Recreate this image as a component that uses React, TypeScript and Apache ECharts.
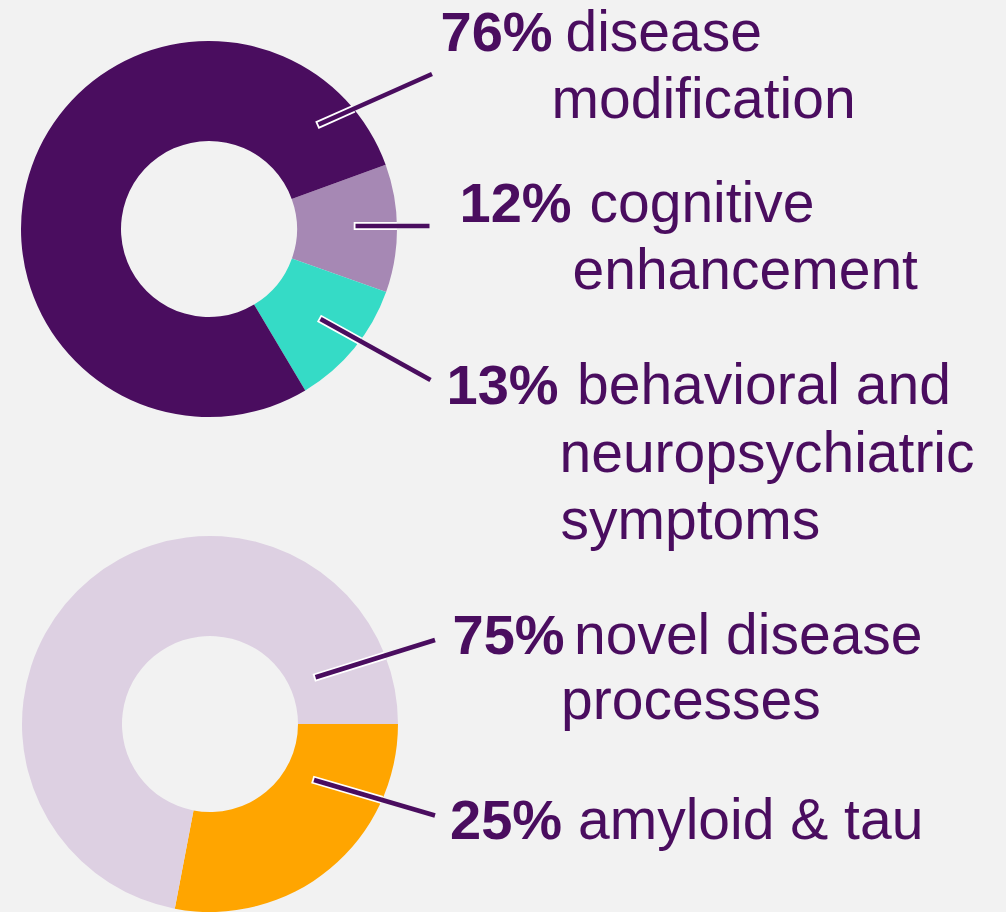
import React, { useEffect, useRef } from "react";
import * as echarts from "echarts";

// ---------- data ----------
const topCategories = [
  "cognitive enhancement",
  "behavioral and neuropsychiatric symptoms",
  "disease modification",
];
const topValues = [11, 11, 78];
const topColors = ["#a688b4", "#35dbc6", "#4a0d5f"];

const bottomCategories = ["amyloid & tau", "novel disease processes"];
const bottomValues = [28, 72];
const bottomColors = ["#ffa500", "#ddd0e2"];

const labelPercents = ["76%", "12%", "13%", "75%", "25%"];
const labelWords = [
  ["disease", "modification"],
  ["cognitive", "enhancement"],
  ["behavioral and", "neuropsychiatric", "symptoms"],
  ["novel disease", "processes"],
  ["amyloid & tau"],
];

// ---------- layout ----------
const W = 1006;
const H = 912;
const BG = "#f2f2f2";
const INK = "#4a0d5f";
const FONT_FAMILY = '"Liberation Sans", Arial, Helvetica, sans-serif';
const FS = 57;
const FS_BOLD = 56;
const MID = 0.3465 * FS; // alphabetic baseline -> central baseline offset
const MID_BOLD = 0.3465 * FS_BOLD;

const TOP_CENTER = [209, 229];
const BOTTOM_CENTER = [210, 724];
const RADIUS = [88, 188];

// x of bold %, x of each word line, alphabetic baseline of each line
const labelLayout = [
  { pctX: 440.5, wordX: [565.5, 551.5], base: [51, 117.5] },
  { pctX: 459.5, wordX: [589.5, 572.5], base: [221.5, 288.5] },
  { pctX: 446.5, wordX: [577, 559.5, 560.5], base: [403.5, 471.5, 538.5] },
  { pctX: 452.5, wordX: [574, 561], base: [653.5, 719] },
  { pctX: 450, wordX: [578], base: [838.5] },
];

const leaders = [
  { from: [318.5, 124.5], to: [432, 74], center: TOP_CENTER },
  { from: [355.5, 226], to: [429.5, 226], center: TOP_CENTER },
  { from: [320.5, 319], to: [430.5, 380], center: TOP_CENTER },
  { from: [315.5, 677.3], to: [435, 640], center: BOTTOM_CENTER },
  { from: [314, 780], to: [435, 815.5], center: BOTTOM_CENTER },
];

function exitPoint(p: number[], d: number[], c: number[], r: number) {
  const px = p[0] - c[0];
  const py = p[1] - c[1];
  const b = px * d[0] + py * d[1];
  const cc = px * px + py * py - r * r;
  const t = -b + Math.sqrt(Math.max(0, b * b - cc));
  return [p[0] + t * d[0], p[1] + t * d[1]];
}

function buildGraphics() {
  const els: any[] = [];
  leaders.forEach((l) => {
    const dx = l.to[0] - l.from[0];
    const dy = l.to[1] - l.from[1];
    const len = Math.hypot(dx, dy);
    const d = [dx / len, dy / len];
    const s = [l.from[0] - d[0] * 1.8, l.from[1] - d[1] * 1.8];
    const e = exitPoint(l.from, d, l.center, RADIUS[1]);
    els.push({
      type: "line",
      z: 10,
      silent: true,
      shape: { x1: s[0], y1: s[1], x2: e[0], y2: e[1] },
      style: { stroke: "#ffffff", lineWidth: 8, lineCap: "butt" },
    });
    els.push({
      type: "line",
      z: 11,
      silent: true,
      shape: { x1: l.from[0], y1: l.from[1], x2: l.to[0], y2: l.to[1] },
      style: { stroke: INK, lineWidth: 4.6, lineCap: "butt" },
    });
  });

  labelLayout.forEach((lay, i) => {
    els.push({
      type: "text",
      z: 12,
      silent: true,
      x: lay.pctX,
      y: lay.base[0] - MID_BOLD,
      style: {
        text: labelPercents[i],
        fill: INK,
        font: `bold ${FS_BOLD}px ${FONT_FAMILY}`,
        lineHeight: FS_BOLD,
        textAlign: "left",
        textVerticalAlign: "middle",
        verticalAlign: "middle",
      },
    });
    labelWords[i].forEach((w, j) => {
      els.push({
        type: "text",
        z: 12,
        silent: true,
        x: lay.wordX[j],
        y: lay.base[j] - MID,
        style: {
          text: w,
          fill: INK,
          font: `normal ${FS}px ${FONT_FAMILY}`,
          lineHeight: FS,
          textAlign: "left",
          textVerticalAlign: "middle",
          verticalAlign: "middle",
        },
      });
    });
  });
  return els;
}

function pieSeries(
  name: string,
  cats: string[],
  vals: number[],
  colors: string[],
  center: number[],
  startAngle: number
) {
  return {
    type: "pie",
    name,
    silent: true,
    center,
    radius: RADIUS,
    startAngle,
    clockwise: true,
    avoidLabelOverlap: false,
    label: { show: false },
    labelLine: { show: false },
    emphasis: { disabled: true },
    itemStyle: { borderWidth: 0 },
    data: cats.map((c, i) => ({
      name: c,
      value: vals[i],
      itemStyle: { color: colors[i] },
    })),
  };
}

export default function App() {
  const ref = useRef<HTMLDivElement>(null);
  useEffect(() => {
    document.body.style.margin = "0";
    document.body.style.background = BG;
    if (!ref.current) return;
    const chart = echarts.init(ref.current, undefined, { renderer: "svg" });
    chart.setOption({
      animation: false,
      backgroundColor: BG,
      tooltip: { show: false },
      series: [
        pieSeries("top", topCategories, topValues, topColors, TOP_CENTER, 20),
        pieSeries("bottom", bottomCategories, bottomValues, bottomColors, BOTTOM_CENTER, 0),
      ],
      graphic: { elements: buildGraphics() },
    });
    return () => chart.dispose();
  }, []);
  return <div ref={ref} style={{ width: W, height: H }} />;
}
